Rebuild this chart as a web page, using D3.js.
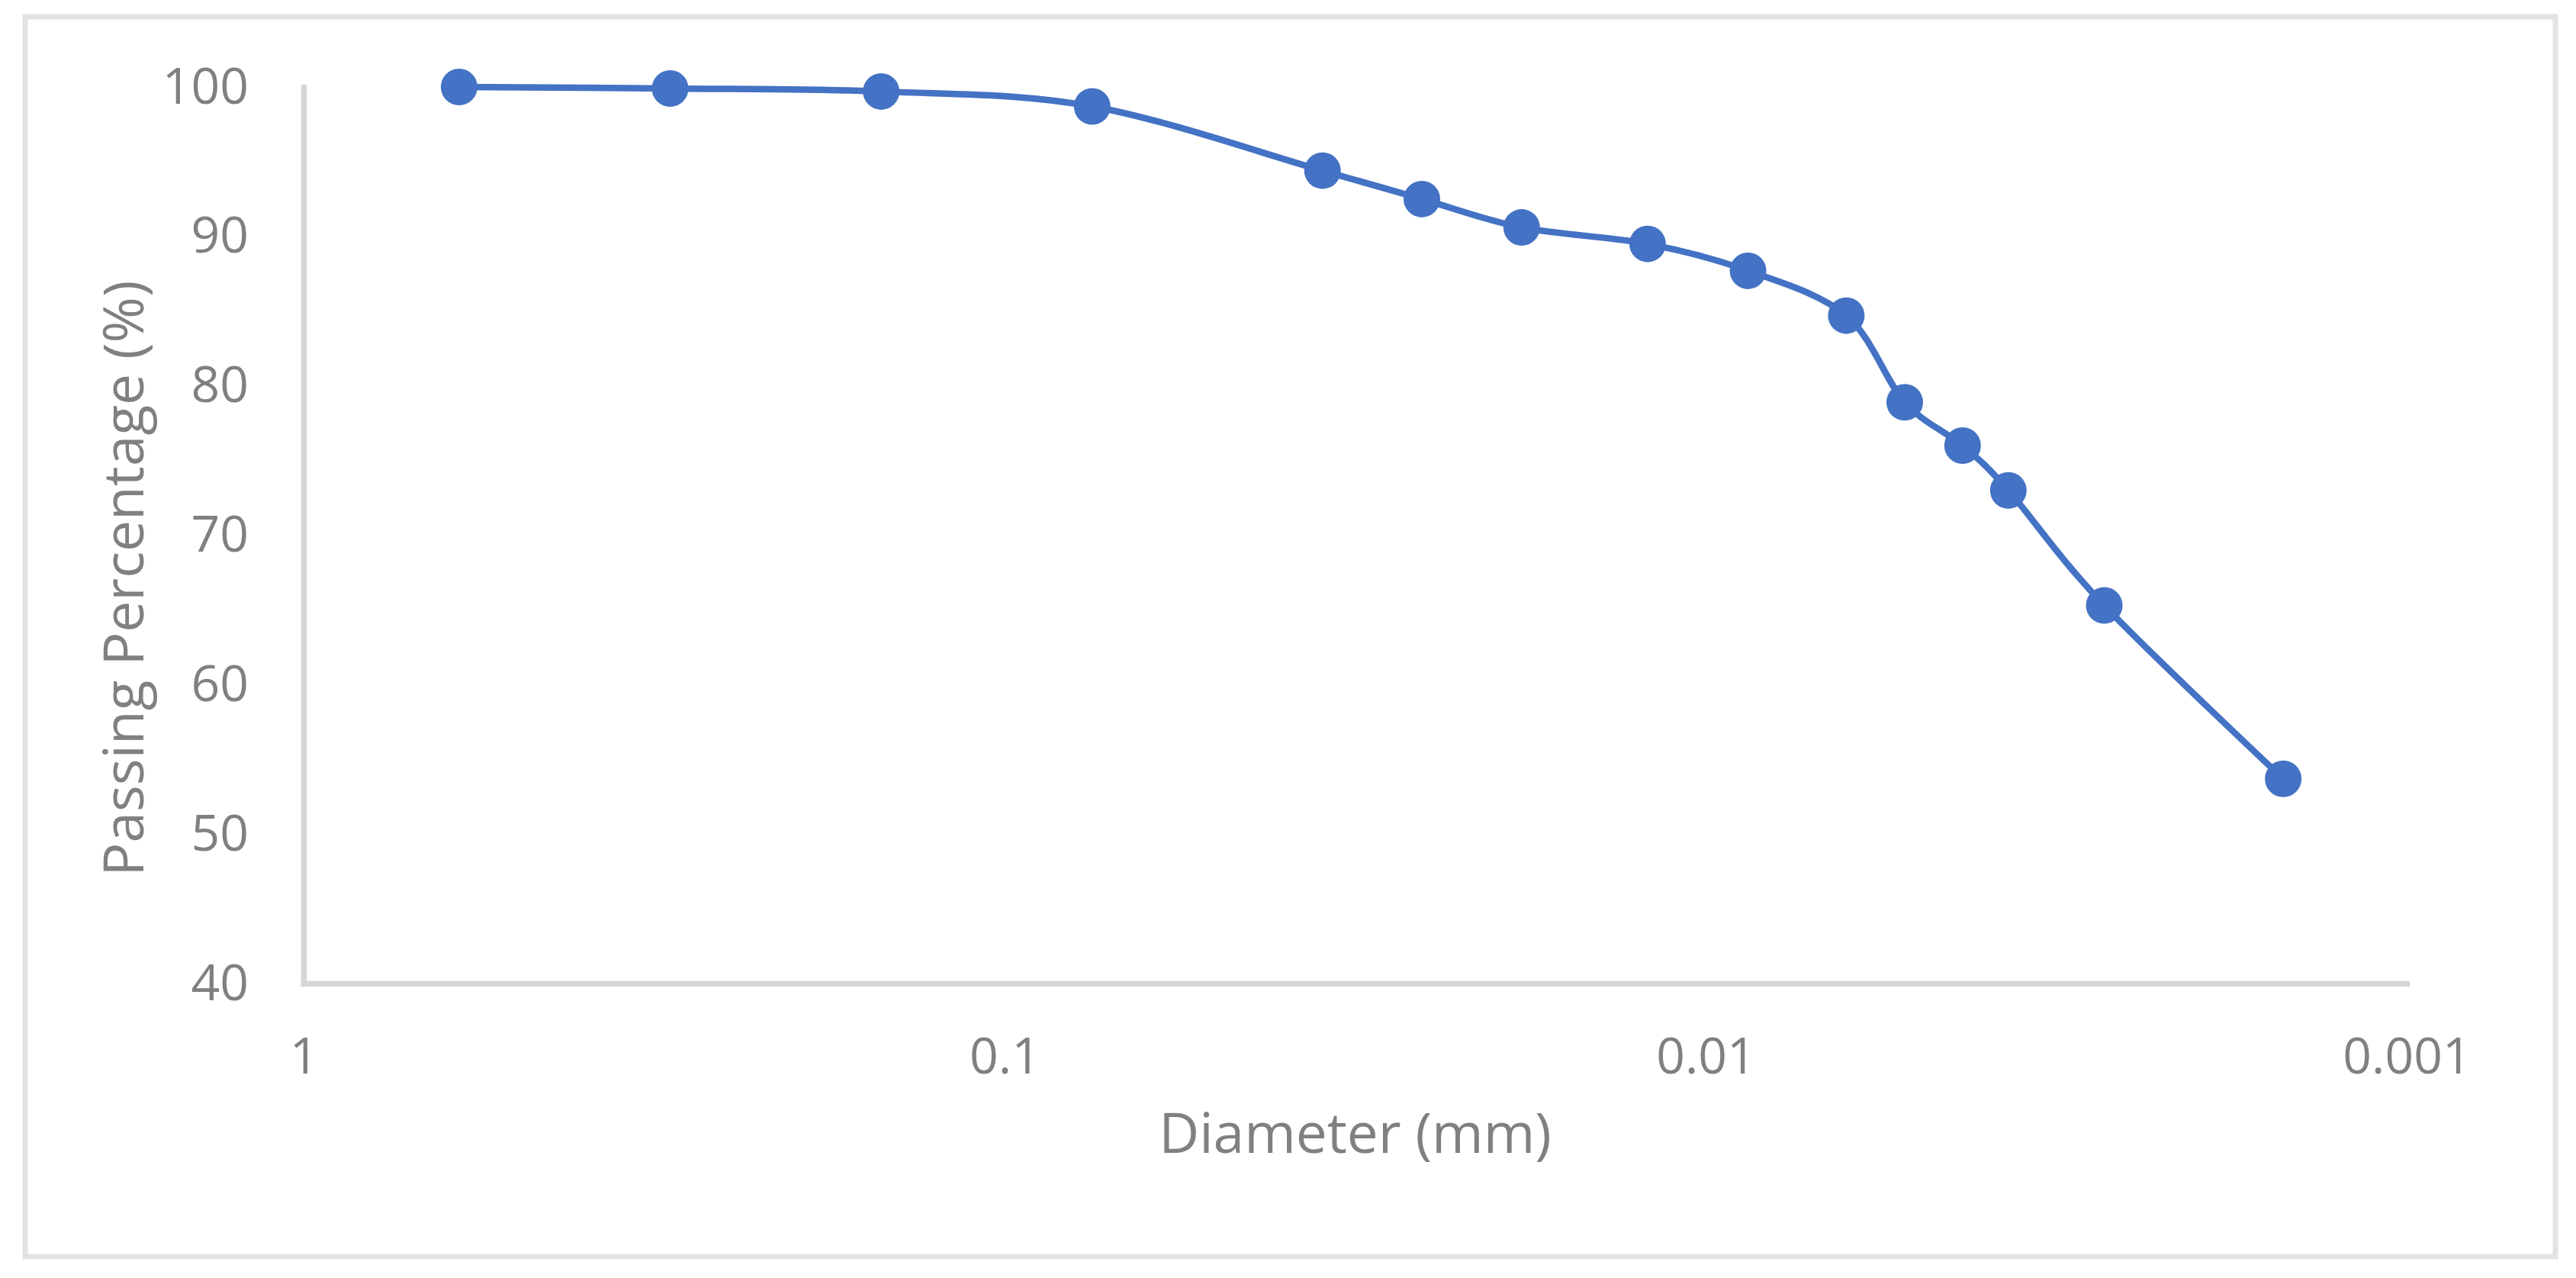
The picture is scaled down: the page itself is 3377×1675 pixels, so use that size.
<!DOCTYPE html>
<html>
<head>
<meta charset="utf-8">
<title>Particle size distribution</title>
<script src="https://cdn.jsdelivr.net/npm/d3@7"></script>
<style>
  html, body { margin: 0; padding: 0; background: #ffffff; }
  #chart { width: 3377px; height: 1675px; }
  .tick-label { font-family: "Open Sans", "Noto Sans", sans-serif; font-size: 66px; fill: #808080; }
  .axis-title { font-family: "Open Sans", "Noto Sans", sans-serif; font-size: 73px; fill: #808080; }
</style>
</head>
<body>
<div id="chart"></div>
<script>
// Grain size data (sieve + hydrometer)
const diameters = [0.6, 0.3, 0.15, 0.075, 0.0352, 0.0254, 0.0183, 0.0121, 0.0087, 0.0063, 0.0052, 0.0043, 0.0037, 0.0027, 0.0015];
const passing = [100, 99.9, 99.7, 98.7, 94.4, 92.5, 90.6, 89.5, 87.7, 84.7, 78.9, 76.0, 73.0, 65.3, 53.7];

const xTicks = [1, 0.1, 0.01, 0.001];
const xTickLabels = ['1', '0.1', '0.01', '0.001'];
const yTicks = [40, 50, 60, 70, 80, 90, 100];

const xTitle = 'Diameter (mm)';
const yTitle = 'Passing Percentage (%)';

const width = 3377;
const height = 1675;
const plot = { left: 398, right: 3155, top: 114, bottom: 1289 };

const svg = d3.select('#chart')
  .append('svg')
  .attr('width', width)
  .attr('height', height);

// outer chart frame
svg.append('rect')
  .attr('x', 33)
  .attr('y', 22)
  .attr('width', 3350 - 33)
  .attr('height', 1647 - 22)
  .attr('fill', '#ffffff')
  .attr('stroke', '#e3e3e3')
  .attr('stroke-width', 7);

// scales - log x axis runs from 1 down to 0.001
const x = d3.scaleLog()
  .domain([1, 0.001])
  .range([plot.left, plot.right]);

const y = d3.scaleLinear()
  .domain([40, 100])
  .range([plot.bottom, plot.top]);

// y axis
const yAxis = svg.append('g')
  .attr('transform', `translate(${plot.left},0)`)
  .call(d3.axisLeft(y)
    .tickValues(yTicks)
    .tickSize(0)
    .tickSizeOuter(0)
    .tickPadding(72)
    .tickFormat(d3.format('d')));

// x axis
const xAxis = svg.append('g')
  .attr('transform', `translate(0,${plot.bottom})`)
  .call(d3.axisBottom(x)
    .tickValues(xTicks)
    .tickSize(0)
    .tickSizeOuter(0)
    .tickPadding(71)
    .tickFormat((d, i) => xTickLabels[i]));

[xAxis, yAxis].forEach(ax => {
  ax.select('.domain')
    .attr('stroke', '#d6d6d6')
    .attr('stroke-width', 7.5)
    .attr('stroke-linecap', 'square');
  ax.selectAll('.tick text')
    .attr('class', 'tick-label')
    .attr('font-family', null)
    .attr('font-size', null)
    .attr('fill', null);
  ax.attr('font-family', null).attr('font-size', null);
});

// axis titles
svg.append('text')
  .attr('class', 'axis-title')
  .attr('x', (plot.left + plot.right) / 2)
  .attr('y', 1511)
  .attr('text-anchor', 'middle')
  .text(xTitle);

svg.append('text')
  .attr('class', 'axis-title')
  .attr('transform', 'translate(188,758) rotate(-90)')
  .attr('text-anchor', 'middle')
  .text(yTitle);

// smoothed series line, like the spreadsheet "smooth line" option
const points = diameters.map((d, i) => ({ d: d, p: passing[i] }));

const line = d3.line()
  .x(d => x(d.d))
  .y(d => y(d.p))
  .curve(d3.curveCardinal.tension(0));

svg.append('path')
  .datum(points)
  .attr('fill', 'none')
  .attr('stroke', '#4472c4')
  .attr('stroke-width', 8.5)
  .attr('stroke-linejoin', 'round')
  .attr('d', line);

// markers
svg.append('g')
  .selectAll('circle')
  .data(points)
  .enter().append('circle')
  .attr('cx', d => x(d.d))
  .attr('cy', d => y(d.p))
  .attr('r', 24)
  .attr('fill', '#4472c4');
</script>
</body>
</html>
